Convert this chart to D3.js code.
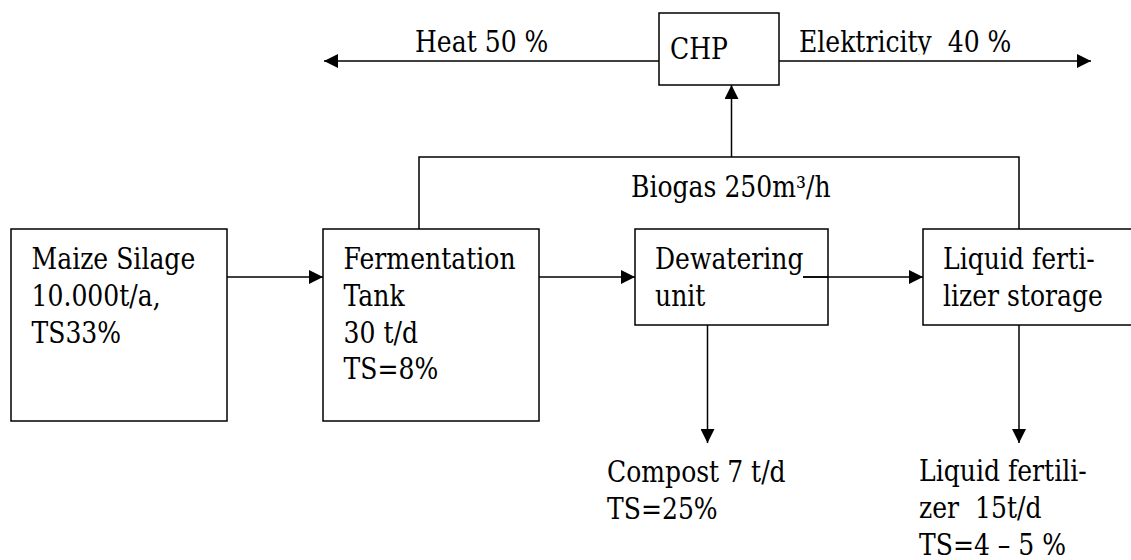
<!DOCTYPE html>
<html>
<head>
<meta charset="utf-8">
<script src="https://cdn.jsdelivr.net/npm/d3@7"></script>
<style>
  body { margin: 0; background: #fff; }
  svg { display: block; }
</style>
</head>
<body>
<div id="chart"></div>
<script>
// process boxes (text lines)
var boxIds = ['maize', 'ferm', 'dewater', 'liquid', 'chp'];
var boxLines = [
  ['Maize Silage', '10.000t/a,', 'TS33%'],
  ['Fermentation', 'Tank', '30 t/d', 'TS=8%'],
  ['Dewatering', 'unit'],
  ['Liquid ferti-', 'lizer storage'],
  ['CHP']
];
// free labels on the flows
var flowIds = ['heat', 'elec', 'biogas', 'compost', 'fert'];
var flowLines = [
  ['Heat 50 %'],
  ['Elektricity  40 %'],
  ['Biogas 250m³/h'],
  ['Compost 7 t/d', 'TS=25%'],
  ['Liquid fertili-', 'zer  15t/d', 'TS=4 – 5 %']
];

// layout (pixels)
var W = 1131, H = 560, lineH = 36.8;
// no Times here: DejaVu Serif squeezed to Times widths
var serif = 'DejaVu Serif', fontSize = 29, squeeze = 0.865;
var boxPos = {
  maize:   {x: 11,  y: 229, w: 216, h: 192, tx: 31.5, ty: 269},
  ferm:    {x: 323, y: 229, w: 216, h: 192, tx: 343.5, ty: 269},
  dewater: {x: 635, y: 229, w: 193, h: 96,  tx: 655, ty: 269},
  liquid:  {x: 923, y: 229, w: 230, h: 96,  tx: 943, ty: 269},
  chp:     {x: 659, y: 13,  w: 120, h: 72,  tx: 670, ty: 59}
};
var flowPos = {
  heat:    {tx: 415, ty: 52},
  elec:    {tx: 799, ty: 52},
  biogas:  {tx: 631, ty: 197},
  compost: {tx: 607, ty: 482},
  fert:    {tx: 919, ty: 481}
};
// arrows: [x1,y1,x2,y2], head at the end
var arrows = [
  [659, 61, 324, 61],
  [779, 61, 1091, 61],
  [731.5, 157, 731.5, 85],
  [227, 277, 323, 277],
  [539, 277, 635, 277],
  [803, 277, 923, 277],
  [707.5, 325, 707.5, 443],
  [1019, 325, 1019, 443]
];
// biogas collector (no heads)
var pipes = [
  [[419, 229], [419, 157], [1019, 157], [1019, 229]]
];

var svg = d3.select('#chart').append('svg')
  .attr('width', W)
  .attr('height', H);

svg.append('defs').append('marker')
  .attr('id', 'head')
  .attr('viewBox', '0 0 14 14')
  .attr('refX', 14).attr('refY', 7)
  .attr('markerWidth', 14).attr('markerHeight', 14)
  .attr('markerUnits', 'userSpaceOnUse')
  .attr('orient', 'auto')
  .append('path')
  .attr('d', 'M0,0L14,7L0,14Z')
  .attr('fill', '#000');

// descender of "Elektricity" is cut off in the original
svg.select('defs').append('clipPath')
  .attr('id', 'clipElec')
  .append('rect')
  .attr('x', 780).attr('y', 0).attr('width', 400).attr('height', 54.5);

svg.selectAll('.pipe')
  .data(pipes)
  .enter()
  .append('path')
    .classed('pipe', 1)
    .attr('d', d3.line())
    .attr('fill', 'none')
    .attr('stroke', '#000')
    .attr('stroke-width', 1.5);

svg.selectAll('.arrow')
  .data(arrows)
  .enter()
  .append('line')
    .classed('arrow', 1)
    .attr('x1', function(d){ return d[0]; })
    .attr('y1', function(d){ return d[1]; })
    .attr('x2', function(d){ return d[2]; })
    .attr('y2', function(d){ return d[3]; })
    .attr('stroke', '#000')
    .attr('stroke-width', 1.5)
    .attr('marker-end', 'url(#head)');

var boxes = svg.selectAll('.box')
  .data(boxIds)
  .enter()
  .append('g')
    .classed('box', 1);

boxes.append('rect')
  .attr('x', function(d){ return boxPos[d].x; })
  .attr('y', function(d){ return boxPos[d].y; })
  .attr('width', function(d){ return boxPos[d].w; })
  .attr('height', function(d){ return boxPos[d].h; })
  .attr('fill', 'none')
  .attr('stroke', '#000')
  .attr('stroke-width', 1.5);

function addLines(sel, lines, p) {
  sel.selectAll('text')
    .data(lines)
    .enter()
    .append('text')
      .attr('transform', function(d, j){
        return 'translate(' + p.tx + ',' + (p.ty + j * lineH) + ') scale(' + squeeze + ',1)';
      })
      .attr('font-family', serif)
      .attr('font-size', fontSize)
      .attr('fill', '#000')
      .style('white-space', 'pre')
      .text(function(d){ return d; });
}

boxes.each(function(id, i){
  addLines(d3.select(this), boxLines[i], boxPos[id]);
});

// the arrow out of "Dewatering" starts inside the box, on top of it
svg.append('line')
  .attr('x1', 803).attr('y1', 277).attr('x2', 828).attr('y2', 277)
  .attr('stroke', '#000').attr('stroke-width', 1.5);

svg.selectAll('.flow')
  .data(flowIds)
  .enter()
  .append('g')
    .classed('flow', 1)
    .attr('clip-path', function(d){ return d === 'elec' ? 'url(#clipElec)' : null; })
  .each(function(id, i){
    addLines(d3.select(this), flowLines[i], flowPos[id]);
  });
</script>
</body>
</html>
